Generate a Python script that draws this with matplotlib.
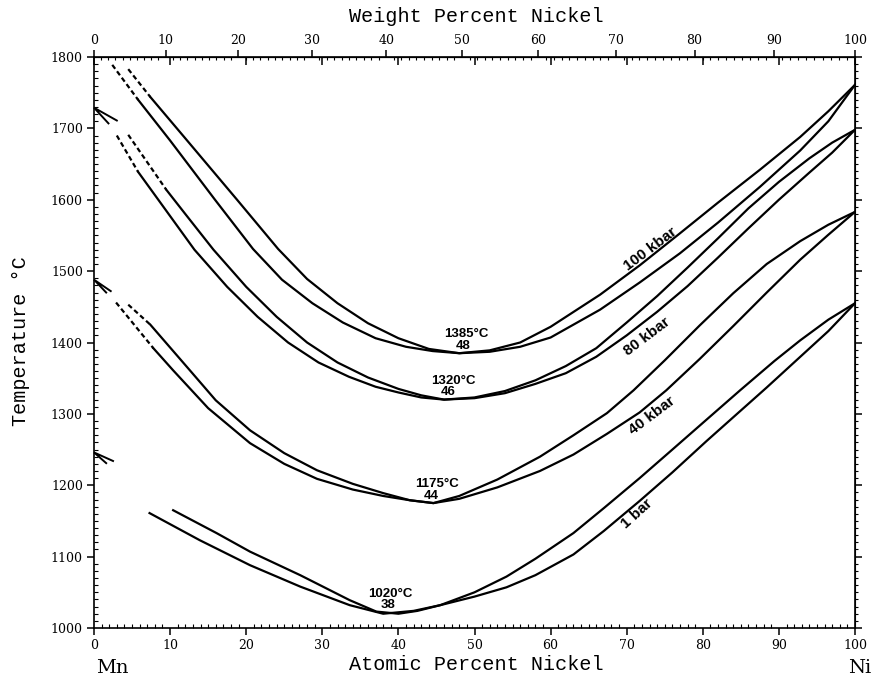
"""
Mn-Ni melting relations (liquidus / solidus) at 1 bar, 40, 80 and 100 kbar.
"""
import matplotlib.pyplot as plt
import numpy as np
from matplotlib.ticker import MultipleLocator

# ---- data: atomic % Ni vs temperature (deg C) ----
# 100 kbar
liq100_dash_x = [4.5, 7.4]
liq100_dash_t = [1783, 1744]
liq100_x = [7.4, 12.0, 18.8, 24.2, 28.0, 32.0, 36.0, 40.0, 44.0, 48.0, 52.0, 56.0,
            60.0, 66.5, 71.7, 77.0, 82.0, 87.5, 92.8, 96.5, 100]
liq100_t = [1744, 1686, 1600, 1531, 1489, 1455, 1427, 1406, 1391, 1385, 1389, 1400,
            1422, 1467, 1508, 1553, 1596, 1642, 1688, 1724, 1761]
sol100_dash_x = [2.4, 5.8]
sol100_dash_t = [1789, 1740]
sol100_x = [5.8, 10.0, 15.9, 20.9, 24.7, 28.7, 32.7, 37.0, 41.0, 44.5, 48.0, 52.0,
            56.0, 60.0, 66.5, 71.7, 77.0, 82.0, 87.5, 92.8, 96.5, 100]
sol100_t = [1740, 1683, 1600, 1531, 1488, 1455, 1428, 1406, 1394, 1388, 1385, 1387,
            1394, 1407, 1446, 1484, 1525, 1568, 1618, 1669, 1710, 1761]

# 80 kbar
liq80_dash_x = [4.5, 9.5]
liq80_dash_t = [1691, 1614]
liq80_x = [9.5, 12.0, 15.7, 20.0, 24.0, 28.0, 32.0, 36.0, 40.0, 43.0, 46.0, 50.0,
           54.0, 58.0, 62.0, 66.0, 70.0, 74.0, 78.0, 82.0, 86.0, 90.0, 94.0, 97.0, 100]
liq80_t = [1614, 1580, 1530, 1478, 1436, 1400, 1372, 1351, 1335, 1326, 1320, 1323,
           1332, 1347, 1367, 1392, 1428, 1465, 1505, 1546, 1588, 1625, 1658, 1680, 1698]
sol80_dash_x = [3.0, 5.8]
sol80_dash_t = [1690, 1639]
sol80_x = [5.8, 8.45, 13.2, 17.5, 21.5, 25.5, 29.5, 33.5, 37.0, 40.0, 43.0, 46.0,
           50.0, 54.0, 58.0, 62.0, 66.0, 70.0, 74.0, 78.0, 82.0, 86.0, 90.0, 94.0,
           97.0, 100]
sol80_t = [1639, 1600, 1530, 1478, 1436, 1400, 1372, 1352, 1338, 1330, 1323, 1320,
           1322, 1329, 1342, 1357, 1380, 1410, 1443, 1479, 1519, 1560, 1600, 1638,
           1666, 1698]

# 40 kbar
liq40_dash_x = [4.5, 7.4]
liq40_dash_t = [1453, 1425]
liq40_x = [7.4, 12.6, 16.0, 20.5, 25.0, 29.3, 34.0, 38.0, 41.5, 44.6, 48.0, 53.0,
           58.6, 63.0, 67.4, 70.9, 75.0, 79.6, 84.0, 88.4, 92.8, 96.5, 100]
liq40_t = [1425, 1361, 1319, 1277, 1245, 1221, 1202, 1189, 1179, 1175, 1185, 1208,
           1240, 1270, 1301, 1333, 1375, 1424, 1469, 1510, 1542, 1565, 1583]
sol40_dash_x = [2.9, 7.8]
sol40_dash_t = [1456, 1392]
sol40_x = [7.8, 10.4, 15.0, 20.5, 25.0, 29.3, 34.0, 38.0, 41.5, 44.6, 48.0, 53.0,
           58.6, 63.0, 67.4, 71.7, 75.2, 79.6, 84.0, 88.4, 92.8, 96.5, 100]
sol40_t = [1392, 1361, 1308, 1259, 1230, 1209, 1194, 1185, 1179, 1175, 1181, 1197,
           1220, 1243, 1272, 1302, 1333, 1377, 1423, 1470, 1516, 1551, 1583]

# 1 bar
liq1_x = [10.4, 16.1, 20.5, 27.1, 33.6, 37.1, 40.0, 42.5, 45.5, 50.0, 54.2, 58.0,
          63.0, 67.0, 71.7, 76.0, 80.5, 84.9, 89.4, 92.8, 96.5, 100]
liq1_t = [1165, 1133, 1107, 1074, 1039, 1023, 1020, 1024, 1032, 1050, 1072, 1097,
          1133, 1168, 1210, 1250, 1292, 1333, 1374, 1403, 1432, 1455]
sol1_x = [7.3, 13.9, 20.5, 27.1, 33.6, 38.0, 42.0, 45.5, 50.0, 54.2, 58.0, 63.0,
          67.0, 71.7, 76.0, 80.5, 84.5, 88.4, 92.5, 96.5, 100]
sol1_t = [1161, 1123, 1088, 1058, 1032, 1020, 1024, 1032, 1044, 1057, 1074, 1103,
          1136, 1178, 1218, 1262, 1300, 1337, 1377, 1416, 1455]

# melting points of Mn marked on the T axis: tip, shaft end, barb end
mn_melt_t = [1729, 1488, 1246]
mn_shaft_x = [3.0, 2.2, 2.5]
mn_shaft_t = [1711, 1472, 1234]
mn_barb_x = [1.9, 1.6, 1.6]
mn_barb_t = [1707, 1470, 1231]

# minimum labels: (text, x, T)
min_labels = [("1385°C", 48.9, 1412), ("48", 48.5, 1395),
              ("1320°C", 47.2, 1346), ("46", 46.5, 1330),
              ("1175°C", 45.1, 1202), ("44", 44.3, 1185),
              ("1020°C", 39.0, 1048), ("38", 38.6, 1032)]
# pressure labels: (text, x, T, rotation)
p_labels = [("100 kbar", 73.1, 1531, 37), ("80 kbar", 72.7, 1408, 37),
            ("40 kbar", 73.3, 1298, 37), ("1 bar", 71.3, 1160, 42)]

M_NI = 58.693
M_MN = 54.938


def at_to_wt(a):
    a = np.asarray(a, dtype=float)
    return 100 * a * M_NI / (a * M_NI + (100 - a) * M_MN)


def wt_to_at(w):
    w = np.asarray(w, dtype=float)
    return 100 * (w / M_NI) / (w / M_NI + (100 - w) / M_MN)


fig = plt.figure(figsize=(8.8, 6.82), dpi=100)
ax = fig.add_axes([94 / 880, 54 / 682, 761 / 880, 571 / 682])

lw = 1.6
solid = [(liq100_x, liq100_t), (sol100_x, sol100_t), (liq80_x, liq80_t), (sol80_x, sol80_t),
         (liq40_x, liq40_t), (sol40_x, sol40_t), (liq1_x, liq1_t), (sol1_x, sol1_t)]
dashed = [(liq100_dash_x, liq100_dash_t), (sol100_dash_x, sol100_dash_t),
          (liq80_dash_x, liq80_dash_t), (sol80_dash_x, sol80_dash_t),
          (liq40_dash_x, liq40_dash_t), (sol40_dash_x, sol40_dash_t)]
for x, t in solid:
    ax.plot(x, t, color="black", lw=lw, solid_joinstyle="round")
for x, t in dashed:
    ax.plot(x, t, color="black", lw=lw, dashes=(2.2, 1.4))

# half-arrows pointing at the Mn melting points
for tip, sx, st, bx, bt in zip(mn_melt_t, mn_shaft_x, mn_shaft_t, mn_barb_x, mn_barb_t):
    ax.plot([sx, 0, bx], [st, tip, bt], color="black", lw=1.4, clip_on=False,
            solid_joinstyle="miter")

for txt, x, t in min_labels:
    ax.text(x, t, txt, ha="center", va="center", family="Liberation Sans",
            weight="bold", fontsize=9.5)
for txt, x, t, rot in p_labels:
    ax.text(x, t, txt, ha="center", va="center", family="Liberation Sans",
            weight="bold", fontsize=11, rotation=rot, rotation_mode="anchor")

ax.set_xlim(0, 100)
ax.set_ylim(1000, 1800)
for s in ax.spines.values():
    s.set_linewidth(1.2)

tick_font = {"family": "DejaVu Serif", "size": 9}
ax.set_xticks(np.arange(0, 101, 10))
ax.xaxis.set_minor_locator(MultipleLocator(1))
ax.set_yticks(np.arange(1000, 1801, 100))
ax.yaxis.set_minor_locator(MultipleLocator(10))
ax.tick_params(which="major", direction="out", length=5, width=1.1, pad=3)
ax.tick_params(which="minor", direction="in", length=3, width=0.8)
for lab in ax.get_xticklabels() + ax.get_yticklabels():
    lab.set_fontfamily(tick_font["family"])
    lab.set_fontsize(tick_font["size"])

# right-hand temperature ticks
right = ax.secondary_yaxis("right")
right.set_yticks(np.arange(1000, 1801, 100))
right.yaxis.set_minor_locator(MultipleLocator(10))
right.tick_params(which="major", direction="out", length=5, width=1.1, labelright=False)
right.tick_params(which="minor", direction="out", length=2.5, width=0.8)

# atomic % ticks on the top edge (inward)
top_at = ax.secondary_xaxis("top")
top_at.set_xticks(np.arange(0, 101, 10))
top_at.tick_params(which="major", direction="in", length=6, width=1.1, labeltop=False)

# weight % scale on top
top_wt = ax.secondary_xaxis("top", functions=(at_to_wt, wt_to_at))
top_wt.set_xticks(np.arange(0, 101, 10))
top_wt.xaxis.set_minor_locator(MultipleLocator(1))
top_wt.tick_params(which="major", direction="out", length=5, width=1.1, pad=2)
top_wt.tick_params(which="minor", direction="in", length=2.5, width=0.8)
for lab in top_wt.get_xticklabels():
    lab.set_fontfamily(tick_font["family"])
    lab.set_fontsize(tick_font["size"])

label_font = {"family": "Liberation Mono", "size": 14.5}
fig.text(476 / 880, 1 - 16 / 682, "Weight Percent Nickel", ha="center", va="center", **label_font)
fig.text(476 / 880, 1 - 664 / 682, "Atomic Percent Nickel", ha="center", va="center", **label_font)
fig.text(21 / 880, 1 - 341 / 682, "Temperature °C", ha="center", va="center",
         rotation=90, **label_font)
fig.text(112 / 880, 1 - 668 / 682, "Mn", ha="center", va="center",
         family="DejaVu Serif", fontsize=14)
fig.text(860 / 880, 1 - 668 / 682, "Ni", ha="center", va="center",
         family="DejaVu Serif", fontsize=14)

fig.savefig("out.png", dpi=100)
